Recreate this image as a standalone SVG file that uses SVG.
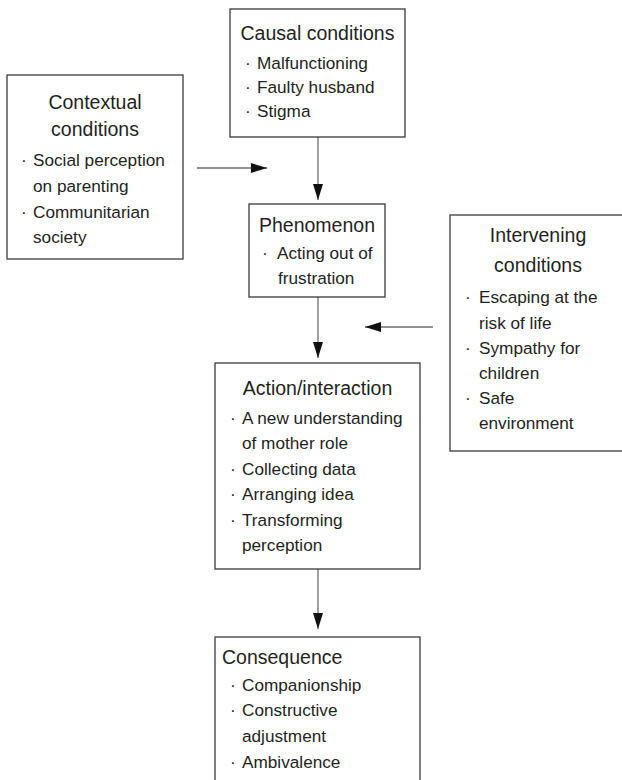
<svg xmlns="http://www.w3.org/2000/svg" width="622" height="780" viewBox="0 0 622 780">
<defs>
<style>
.box{fill:#fff;stroke:#3a3a3a;stroke-width:1.3}
.t{font-family:"Liberation Sans",Arial,sans-serif;font-size:19.5px;fill:#231f20}
.i{font-family:"Liberation Sans",Arial,sans-serif;font-size:17.2px;fill:#231f20}
.c{text-anchor:middle}
.ln{stroke:#6e6e6e;stroke-width:1.3;fill:none}
</style>
<marker id="ah" viewBox="0 0 16 10" refX="16" refY="5" markerWidth="16" markerHeight="10" markerUnits="userSpaceOnUse" orient="auto">
<path d="M0,0 L16,5 L0,10 Z" fill="#111"/>
</marker>
</defs>
<rect width="622" height="780" fill="#fff"/>
<g id="connectors">
<line class="ln" x1="318" y1="137" x2="318" y2="200" marker-end="url(#ah)"/>
<line class="ln" x1="197" y1="168" x2="267" y2="168" marker-end="url(#ah)"/>
<line class="ln" x1="318" y1="297" x2="318" y2="358" marker-end="url(#ah)"/>
<line class="ln" x1="433" y1="327" x2="365" y2="327" marker-end="url(#ah)"/>
<line class="ln" x1="318" y1="569" x2="318" y2="629" marker-end="url(#ah)"/>
</g>
<g id="causal">
<rect class="box" x="230" y="9" width="175" height="128"/>
<text class="t c" x="317.5" y="40">Causal conditions</text>
<text class="i" x="245" y="69">·</text><text class="i" x="257" y="69">Malfunctioning</text>
<text class="i" x="245" y="93">·</text><text class="i" x="257" y="93">Faulty husband</text>
<text class="i" x="245" y="117">·</text><text class="i" x="257" y="117">Stigma</text>
</g>
<g id="contextual">
<rect class="box" x="7" y="75" width="176" height="184"/>
<text class="t c" x="95" y="109">Contextual</text>
<text class="t c" x="95" y="136">conditions</text>
<text class="i" x="21" y="166">·</text><text class="i" x="33" y="166">Social perception</text>
<text class="i" x="33" y="192">on parenting</text>
<text class="i" x="21" y="218">·</text><text class="i" x="33" y="218">Communitarian</text>
<text class="i" x="33" y="243">society</text>
</g>
<g id="phenomenon">
<rect class="box" x="249" y="204" width="136" height="93"/>
<text class="t c" x="317" y="232">Phenomenon</text>
<text class="i" x="262" y="259">·</text><text class="i" x="277" y="259">Acting out of</text>
<text class="i" x="278" y="284">frustration</text>
</g>
<g id="intervening">
<rect class="box" x="450" y="215" width="180" height="236"/>
<text class="t c" x="538" y="242">Intervening</text>
<text class="t c" x="538" y="272">conditions</text>
<text class="i" x="465" y="303">·</text><text class="i" x="479" y="303">Escaping at the</text>
<text class="i" x="479" y="329">risk of life</text>
<text class="i" x="465" y="354">·</text><text class="i" x="479" y="354">Sympathy for</text>
<text class="i" x="479" y="379">children</text>
<text class="i" x="465" y="404">·</text><text class="i" x="479" y="404">Safe</text>
<text class="i" x="479" y="429">environment</text>
</g>
<g id="action">
<rect class="box" x="215" y="363" width="205" height="206"/>
<text class="t c" x="317.5" y="395">Action/interaction</text>
<text class="i" x="230" y="424">·</text><text class="i" x="242" y="424">A new understanding</text>
<text class="i" x="242" y="449">of mother role</text>
<text class="i" x="230" y="475">·</text><text class="i" x="242" y="475">Collecting data</text>
<text class="i" x="230" y="500">·</text><text class="i" x="242" y="500">Arranging idea</text>
<text class="i" x="230" y="526">·</text><text class="i" x="242" y="526">Transforming</text>
<text class="i" x="242" y="551">perception</text>
</g>
<g id="consequence">
<rect class="box" x="215" y="637" width="205" height="160"/>
<text class="t" x="222" y="664">Consequence</text>
<text class="i" x="230" y="691">·</text><text class="i" x="242" y="691">Companionship</text>
<text class="i" x="230" y="716">·</text><text class="i" x="242" y="716">Constructive</text>
<text class="i" x="242" y="742">adjustment</text>
<text class="i" x="230" y="768">·</text><text class="i" x="242" y="768">Ambivalence</text>
</g>
</svg>
